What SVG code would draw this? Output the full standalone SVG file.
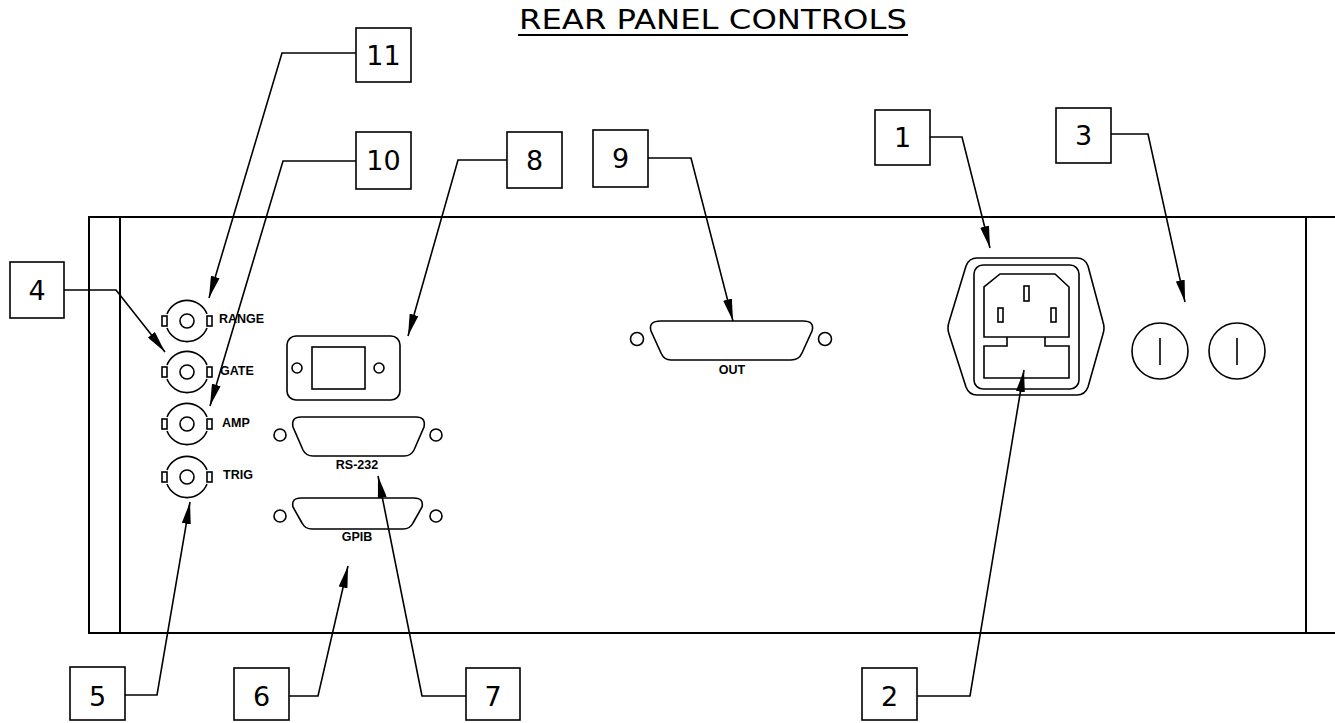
<svg xmlns="http://www.w3.org/2000/svg" width="1335" height="723" viewBox="0 0 1335 723">
<style>
.ln{fill:none;stroke:#000;stroke-width:1.6}
.fr{fill:none;stroke:#000;stroke-width:2}
.box{fill:#fff;stroke:#000;stroke-width:1.6}
.num{font-family:"DejaVu Sans",sans-serif;font-size:27px;text-anchor:middle;fill:#000}
.lbl{font-family:"Liberation Sans",Arial,sans-serif;font-weight:bold;font-size:12.5px;fill:#000}
.lead{fill:none;stroke:#000;stroke-width:1.6;marker-end:url(#ah)}
</style>
<defs>
<marker id="ah" markerUnits="userSpaceOnUse" markerWidth="22" markerHeight="9" refX="22" refY="4.5" orient="auto">
<path d="M0,0 L22,4.5 L0,9 Z" fill="#000"/>
</marker>
<g id="bnc">
<path class="ln" d="M-20,-7 A21.5,21.5 0 0 1 20,-7 M20,7 A21.5,21.5 0 0 1 -20,7"/>
<rect class="ln" x="-25" y="-5" width="5" height="10"/>
<rect class="ln" x="20" y="-5" width="5" height="10"/>
<circle class="ln" cx="0" cy="0" r="7"/>
</g>
</defs>
<rect width="1335" height="723" fill="#fff"/>

<g id="title">
<text x="713" y="29" font-family="DejaVu Sans,sans-serif" font-size="27" text-anchor="middle" textLength="388" lengthAdjust="spacingAndGlyphs">REAR PANEL CONTROLS</text>
<line x1="518" y1="35" x2="908" y2="35" stroke="#000" stroke-width="2"/>
</g>

<g id="frame">
<path class="fr" d="M1335,217 H89 V633 H1335"/>
<line class="fr" x1="120" y1="217" x2="120" y2="633"/>
<line class="fr" x1="1306" y1="217" x2="1306" y2="633"/>
</g>

<g id="bnc-connectors">
<use href="#bnc" x="187" y="321"/>
<use href="#bnc" x="187" y="372"/>
<use href="#bnc" x="187" y="424"/>
<use href="#bnc" x="187" y="477"/>
<text class="lbl" x="219" y="323">RANGE</text>
<text class="lbl" x="220" y="375">GATE</text>
<text class="lbl" x="222" y="427">AMP</text>
<text class="lbl" x="223" y="479">TRIG</text>
</g>

<g id="switch-plate">
<rect class="ln" x="287" y="336" width="113" height="64" rx="9"/>
<rect class="ln" x="312" y="347" width="53" height="42"/>
<circle class="ln" cx="297" cy="368" r="5"/>
<circle class="ln" cx="379" cy="368" r="5"/>
</g>

<g id="rs232">
<path class="ln" d="M301,417 H416 Q426,417 424,427 L414,450 Q411,456 404,456 H313 Q306,456 303,450 L293,427 Q291,417 301,417 Z"/>
<circle class="ln" cx="280" cy="435" r="6"/>
<circle class="ln" cx="436" cy="435" r="6"/>
<text class="lbl" x="357" y="469" text-anchor="middle">RS-232</text>
</g>

<g id="gpib">
<path class="ln" d="M301,498 H414 Q424,498 422,507 L413,523 Q410,529 403,529 H312 Q305,529 302,523 L293,507 Q291,498 301,498 Z"/>
<circle class="ln" cx="280" cy="516" r="6"/>
<circle class="ln" cx="436" cy="516" r="6"/>
<text class="lbl" x="357" y="541" text-anchor="middle">GPIB</text>
</g>

<g id="out">
<path class="ln" d="M661,321 H803 Q815,321 812,331 L802,353 Q799,360 791,360 H671 Q664,360 661,353 L651,331 Q648,321 661,321 Z"/>
<circle class="ln" cx="637" cy="339" r="6.5"/>
<circle class="ln" cx="825" cy="339" r="6.5"/>
<text class="lbl" x="732" y="374" text-anchor="middle">OUT</text>
</g>

<g id="power-inlet">
<path class="ln" d="M977,258 H1077 Q1085,258 1088,266 L1103,322 Q1105,328 1103,334 L1088,387 Q1085,395 1077,395 H977 Q969,395 966,387 L949,334 Q947,328 949,322 L966,266 Q969,258 977,258 Z"/>
<rect class="ln" x="974" y="265" width="105" height="124" rx="9"/>
<path class="ln" d="M1000,274 H1055 L1069,287 V337 H984 V287 Z"/>
<path class="ln" d="M1007,337 V346 H984 V378 H1069 V346 H1045 V337"/>
<rect class="ln" x="1024" y="286" width="5" height="15"/>
<rect class="ln" x="998" y="308" width="5" height="14"/>
<rect class="ln" x="1051" y="308" width="5" height="14"/>
</g>

<g id="switches">
<circle class="ln" cx="1160" cy="351" r="28"/>
<line class="ln" x1="1160" y1="338" x2="1160" y2="365"/>
<circle class="ln" cx="1237" cy="351" r="28"/>
<line class="ln" x1="1237" y1="338" x2="1237" y2="365"/>
</g>

<g id="connectors">
<path class="lead" d="M356,53 H282 L209,298"/>
<path class="lead" d="M356,161 H283 L210,406"/>
<path class="lead" d="M64,290 H116 L165,352"/>
<path class="lead" d="M125,695 H157 L190,502"/>
<path class="lead" d="M289,696 H318 L348,566"/>
<path class="lead" d="M466,696 H422 L378,476"/>
<path class="lead" d="M917,696 H970 L1024,370"/>
<path class="lead" d="M507,160 H458 L408,336"/>
<path class="lead" d="M648,158 H691 L733,321"/>
<path class="lead" d="M930,137 H962 L990,248"/>
<path class="lead" d="M1111,134 H1148 L1185,302"/>
</g>

<g id="callout-11"><rect class="box" x="356" y="28" width="55" height="54"/><text class="num" x="383.5" y="65">11</text></g>
<g id="callout-10"><rect class="box" x="356" y="132" width="55" height="57"/><text class="num" x="383.5" y="170">10</text></g>
<g id="callout-4"><rect class="box" x="10" y="262" width="54" height="56"/><text class="num" x="37" y="300">4</text></g>
<g id="callout-5"><rect class="box" x="70" y="667" width="55" height="53"/><text class="num" x="97.5" y="706">5</text></g>
<g id="callout-6"><rect class="box" x="234" y="668" width="55" height="52"/><text class="num" x="261.5" y="706">6</text></g>
<g id="callout-7"><rect class="box" x="466" y="668" width="54" height="52"/><text class="num" x="493" y="706">7</text></g>
<g id="callout-2"><rect class="box" x="862" y="668" width="55" height="52"/><text class="num" x="889.5" y="706">2</text></g>
<g id="callout-8"><rect class="box" x="507" y="132" width="55" height="56"/><text class="num" x="534.5" y="170">8</text></g>
<g id="callout-9"><rect class="box" x="593" y="130" width="55" height="57"/><text class="num" x="620.5" y="168">9</text></g>
<g id="callout-1"><rect class="box" x="875" y="110" width="55" height="55"/><text class="num" x="902.5" y="147">1</text></g>
<g id="callout-3"><rect class="box" x="1056" y="108" width="55" height="55"/><text class="num" x="1083.5" y="145">3</text></g>
</svg>
